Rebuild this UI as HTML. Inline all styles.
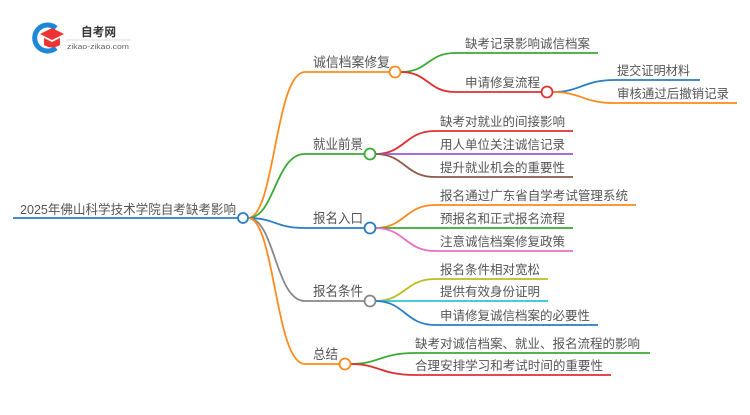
<!DOCTYPE html>
<html><head><meta charset="utf-8"><style>
html,body{margin:0;padding:0;background:#fff;}
svg text{font-family:"Liberation Sans","Noto Sans CJK SC",sans-serif;fill:#555;font-size:12.5px;}
</style></head><body>
<svg width="750" height="410" viewBox="0 0 750 410" xmlns="http://www.w3.org/2000/svg">
<!-- logo -->
<path d="M56,28 A13,13 0 1 0 56,48" fill="none" stroke="#1e88d8" stroke-width="5"/>
<path d="M40,34 L52,28 L64,34 L52,40 Z" fill="#e33"/>
<path d="M44,38 L44,45 Q52,50 60,45 L60,38 L52,42 Z" fill="#e33"/>
<text x="81" y="36" style="font-size:12px;font-weight:bold;fill:#333" textLength="35" lengthAdjust="spacingAndGlyphs">自考网</text>
<line x1="66" y1="40" x2="131" y2="40" stroke="#ddd" stroke-width="1"/>
<text x="67" y="49" style="font-size:7px;fill:#666" textLength="62" lengthAdjust="spacingAndGlyphs">zikao-zikao.com</text>

<g fill="none" stroke-width="1.8">
<line x1="13" y1="218" x2="238" y2="218" stroke="#2a7cc4"/>
<path d="M248,218 C275,218 275,72 305,72 L390,72" stroke="#ff8a1f"/>
<path d="M248,218 C275,218 275,154 305,154 L365,154" stroke="#3aaa35"/>
<path d="M248,218 C275,218 275,228 305,228 L365,228" stroke="#2a7cc4"/>
<path d="M248,218 C275,218 275,301 305,301 L365,301" stroke="#888"/>
<path d="M248,218 C275,218 275,364 305,364 L340,364" stroke="#ff8a1f"/>
<path d="M401,72 C428,72 428,53 455,53 L598,53" stroke="#3aaa35"/>
<path d="M401,72 C428,72 428,92 455,92 L542,92" stroke="#e03030"/>
<path d="M552,92 C582,92 582,80 615,80 L700,80" stroke="#2a7cc4"/>
<path d="M552,92 C582,92 582,103 615,103 L737,103" stroke="#ff8a1f"/>
<path d="M375,154 C405,154 405,131 435,131 L573,131" stroke="#e03030"/>
<path d="M375,154 L573,154" stroke="#9b59d0"/>
<path d="M375,154 C405,154 405,177 435,177 L573,177" stroke="#8b5a4a"/>
<path d="M375,228 C405,228 405,205 435,205 L636,205" stroke="#ff8a1f"/>
<path d="M375,228 L573,228" stroke="#3aaa35"/>
<path d="M375,228 C405,228 405,251 435,251 L573,251" stroke="#e870c0"/>
<path d="M375,301 C405,301 405,279 435,279 L548,279" stroke="#bcbd22"/>
<path d="M375,301 L548,301" stroke="#2ec4d8"/>
<path d="M375,301 C405,301 405,325 435,325 L598,325" stroke="#2a7cc4"/>
<path d="M350,364 C380,364 380,353 415,353 L650,353" stroke="#3aaa35"/>
<path d="M350,364 C380,364 380,375 415,375 L611,375" stroke="#e03030"/>
</g>
<g fill="#fff" stroke-width="1.8">
<circle cx="243" cy="218" r="5" stroke="#2a7cc4"/>
<circle cx="395" cy="72" r="5.5" stroke="#ff8a1f"/>
<circle cx="547" cy="92" r="5.5" stroke="#e03030"/>
<circle cx="370" cy="154" r="5.5" stroke="#3aaa35"/>
<circle cx="370" cy="228" r="5.5" stroke="#2a7cc4"/>
<circle cx="370" cy="301" r="5.5" stroke="#888"/>
<circle cx="345" cy="364" r="5.5" stroke="#ff8a1f"/>
</g>
<g lengthAdjust="spacingAndGlyphs">
<text x="20" y="214" style="font-size:13px" textLength="216" lengthAdjust="spacingAndGlyphs">2025年佛山科学技术学院自考缺考影响</text>
<text x="313" y="67" style="font-size:13.5px" textLength="77" lengthAdjust="spacingAndGlyphs">诚信档案修复</text>
<text x="313" y="149" style="font-size:13.5px" textLength="50" lengthAdjust="spacingAndGlyphs">就业前景</text>
<text x="313" y="223" style="font-size:13.5px" textLength="50" lengthAdjust="spacingAndGlyphs">报名入口</text>
<text x="313" y="296" style="font-size:13.5px" textLength="50" lengthAdjust="spacingAndGlyphs">报名条件</text>
<text x="313" y="359" style="font-size:13.5px" textLength="25" lengthAdjust="spacingAndGlyphs">总结</text>
<text x="465" y="48" textLength="125" lengthAdjust="spacingAndGlyphs">缺考记录影响诚信档案</text>
<text x="465" y="87" textLength="75" lengthAdjust="spacingAndGlyphs">申请修复流程</text>
<text x="617" y="75" textLength="73" lengthAdjust="spacingAndGlyphs">提交证明材料</text>
<text x="617" y="98" textLength="112" lengthAdjust="spacingAndGlyphs">审核通过后撤销记录</text>
<text x="440" y="126" textLength="125" lengthAdjust="spacingAndGlyphs">缺考对就业的间接影响</text>
<text x="440" y="149" textLength="125" lengthAdjust="spacingAndGlyphs">用人单位关注诚信记录</text>
<text x="440" y="172" textLength="125" lengthAdjust="spacingAndGlyphs">提升就业机会的重要性</text>
<text x="440" y="200" textLength="188" lengthAdjust="spacingAndGlyphs">报名通过广东省自学考试管理系统</text>
<text x="440" y="223" textLength="125" lengthAdjust="spacingAndGlyphs">预报名和正式报名流程</text>
<text x="440" y="246" textLength="125" lengthAdjust="spacingAndGlyphs">注意诚信档案修复政策</text>
<text x="440" y="274" textLength="100" lengthAdjust="spacingAndGlyphs">报名条件相对宽松</text>
<text x="440" y="296" textLength="100" lengthAdjust="spacingAndGlyphs">提供有效身份证明</text>
<text x="440" y="320" textLength="150" lengthAdjust="spacingAndGlyphs">申请修复诚信档案的必要性</text>
<text x="415" y="348" textLength="225" lengthAdjust="spacingAndGlyphs">缺考对诚信档案、就业、报名流程的影响</text>
<text x="415" y="370" textLength="188" lengthAdjust="spacingAndGlyphs">合理安排学习和考试时间的重要性</text>
</g>
</svg>
</body></html>
